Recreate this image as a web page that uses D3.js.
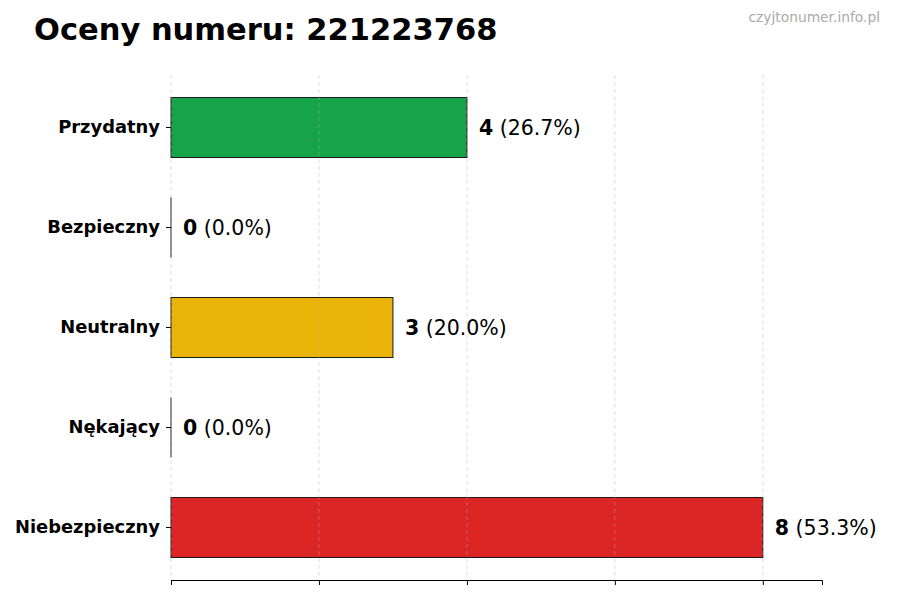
<!DOCTYPE html>
<html>
<head>
<meta charset="utf-8">
<script src="https://cdn.jsdelivr.net/npm/d3@7"></script>
<style>
  body { margin: 0; background: #fff; }
  svg text { font-family: "DejaVu Sans", sans-serif; }
</style>
</head>
<body>
<div id="chart"></div>
<script>
// chart data
const categories = ["Przydatny", "Bezpieczny", "Neutralny", "Nękający", "Niebezpieczny"];
const counts = [4, 0, 3, 0, 8];
const percents = ["26.7%", "0.0%", "20.0%", "0.0%", "53.3%"];
const barColors = ["#16a34a", "#2563eb", "#eab308", "#f97316", "#dc2626"];
const xTicks = [0, 2, 4, 6, 8];
const xMax = 8.8;

const width = 900, height = 600;
const margin = { top: 75, right: 78, bottom: 20, left: 171 };

const svg = d3.select("#chart").append("svg")
    .attr("width", width)
    .attr("height", height);

// title + watermark
svg.append("text")
    .attr("x", 34)
    .attr("y", 40)
    .style("font-size", "30.5px")
    .style("font-weight", "bold")
    .style("fill", "#000")
    .text("Oceny numeru: 221223768");

svg.append("text")
    .attr("x", 880)
    .attr("y", 22)
    .attr("text-anchor", "end")
    .style("font-size", "13.8px")
    .style("fill", "#aaaaaa")
    .text("czyjtonumer.info.pl");

// scales
const x = d3.scaleLinear()
    .domain([0, xMax])
    .range([margin.left, width - margin.right]);

const y = d3.scaleBand()
    .domain(categories)
    .range([margin.top, height - margin.bottom])
    .paddingInner(0.4)
    .paddingOuter(0.225);

const data = categories.map((c, i) => ({ cat: c, n: counts[i], pct: percents[i], color: barColors[i] }));

// bars
svg.selectAll(".bar")
    .data(data)
    .enter().append("rect")
    .attr("class", "bar")
    .attr("x", x(0))
    .attr("y", d => y(d.cat))
    .attr("width", d => x(d.n) - x(0))
    .attr("height", y.bandwidth())
    .attr("fill", d => d.color)
    .attr("stroke", "#1a1a1a")
    .attr("stroke-width", 1);

// zero-length bars still show their edge
svg.selectAll(".zero")
    .data(data.filter(d => d.n === 0))
    .enter().append("line")
    .attr("class", "zero")
    .attr("x1", x(0))
    .attr("x2", x(0))
    .attr("y1", d => y(d.cat))
    .attr("y2", d => y(d.cat) + y.bandwidth())
    .attr("stroke", "#1a1a1a")
    .attr("stroke-width", 1);

// dashed grid (drawn over bars, faint)
svg.append("g")
    .selectAll("line")
    .data(xTicks)
    .enter().append("line")
    .attr("x1", d => x(d))
    .attr("x2", d => x(d))
    .attr("y1", margin.top)
    .attr("y2", height - margin.bottom)
    .attr("stroke", "#b0b0b0")
    .attr("stroke-opacity", 0.5)
    .attr("stroke-width", 0.8)
    .attr("stroke-dasharray", "4,3");

// x axis, ticks only
const xAxis = svg.append("g")
    .attr("transform", "translate(0," + (height - margin.bottom) + ")")
    .call(d3.axisBottom(x).tickValues(xTicks).tickFormat("").tickSizeOuter(0).tickSize(5));
xAxis.select(".domain").attr("stroke", "#000").attr("stroke-width", 1);
xAxis.selectAll(".tick line").attr("stroke", "#000");

// y axis: tick marks and bold labels, no spine
const yAxis = svg.append("g")
    .attr("transform", "translate(" + margin.left + ",0)")
    .call(d3.axisLeft(y).tickSize(5).tickPadding(6));
yAxis.select(".domain").remove();
yAxis.selectAll(".tick line").attr("stroke", "#000");
yAxis.selectAll(".tick text")
    .style("font-family", "'DejaVu Sans', sans-serif")
    .style("font-size", "17.9px")
    .style("font-weight", "bold")
    .style("fill", "#000");

// value labels
const labels = svg.selectAll(".val")
    .data(data)
    .enter().append("text")
    .attr("class", "val")
    .attr("x", d => x(d.n) + 12)
    .attr("y", d => y(d.cat) + y.bandwidth() / 2)
    .attr("dy", "0.35em")
    .style("font-size", "20.5px")
    .style("fill", "#000");

labels.append("tspan")
    .style("font-weight", "bold")
    .text(d => d.n);
labels.append("tspan")
    .text(d => " (" + d.pct + ")");
</script>
</body>
</html>
